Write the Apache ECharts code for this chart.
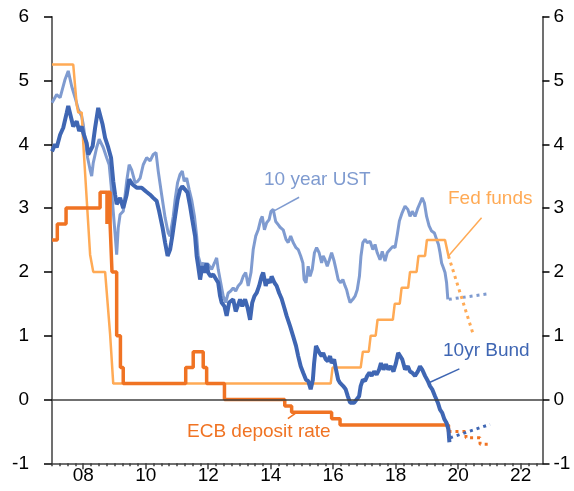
<!DOCTYPE html>
<html>

<head>
    <meta charset="utf-8">
    <title>Policy rates and 10-year yields</title>
    <script src="https://cdn.jsdelivr.net/npm/echarts@6/dist/echarts.min.js"></script>
</head>
<style>
    body {
        margin: 0;
        background: #fff;
    }
</style>

<body>
    <div id="main" style="width: 574px;height:491px;"></div>
    <script type="text/javascript">
        // tick labels (years)
        var yearTicks = [2008, 2010, 2012, 2014, 2016, 2018, 2020, 2022];

        // 10 year UST yield, [year, %]
        var ust10y = [[2007.00, 4.65], [2007.04, 4.62], [2007.15, 4.78], [2007.26, 4.73], [2007.42, 5.02], [2007.52, 5.15], [2007.63, 4.91], [2007.74, 4.73], [2007.84, 4.55], [2007.95, 4.44], [2008.00, 4.31], [2008.09, 3.97], [2008.14, 3.79], [2008.22, 3.60], [2008.27, 3.50], [2008.32, 3.71], [2008.43, 3.95], [2008.51, 4.08], [2008.64, 3.95], [2008.75, 3.79], [2008.83, 3.68], [2008.89, 3.37], [2008.96, 2.95], [2009.02, 2.59], [2009.07, 2.27], [2009.12, 2.69], [2009.18, 2.90], [2009.28, 2.95], [2009.39, 3.42], [2009.47, 3.68], [2009.55, 3.60], [2009.66, 3.40], [2009.74, 3.42], [2009.82, 3.47], [2009.92, 3.68], [2010.03, 3.79], [2010.14, 3.74], [2010.24, 3.84], [2010.33, 3.87], [2010.40, 3.58], [2010.51, 3.21], [2010.62, 2.85], [2010.72, 2.61], [2010.78, 2.56], [2010.83, 2.72], [2010.88, 2.87], [2010.94, 3.13], [2011.02, 3.40], [2011.10, 3.53], [2011.17, 3.58], [2011.23, 3.42], [2011.31, 3.47], [2011.39, 3.29], [2011.47, 3.13], [2011.56, 2.87], [2011.63, 2.56], [2011.68, 2.25], [2011.77, 2.09], [2011.84, 2.14], [2011.92, 2.06], [2012.00, 2.12], [2012.11, 2.04], [2012.20, 2.14], [2012.27, 2.22], [2012.32, 2.04], [2012.40, 1.83], [2012.48, 1.62], [2012.56, 1.52], [2012.64, 1.67], [2012.72, 1.70], [2012.80, 1.75], [2012.88, 1.70], [2012.96, 1.78], [2013.05, 1.83], [2013.12, 1.93], [2013.20, 1.99], [2013.28, 1.78], [2013.37, 1.99], [2013.44, 2.35], [2013.52, 2.56], [2013.60, 2.66], [2013.68, 2.82], [2013.73, 2.87], [2013.80, 2.66], [2013.87, 2.77], [2013.95, 2.82], [2014.01, 2.95], [2014.08, 2.98], [2014.16, 2.79], [2014.24, 2.74], [2014.30, 2.70], [2014.40, 2.66], [2014.49, 2.51], [2014.56, 2.46], [2014.64, 2.56], [2014.72, 2.46], [2014.81, 2.38], [2014.88, 2.35], [2014.96, 2.25], [2015.03, 2.14], [2015.07, 1.88], [2015.13, 1.83], [2015.20, 2.09], [2015.26, 1.93], [2015.33, 2.04], [2015.40, 2.30], [2015.47, 2.38], [2015.55, 2.30], [2015.63, 2.14], [2015.68, 2.25], [2015.74, 2.19], [2015.81, 2.09], [2015.88, 2.19], [2015.95, 2.30], [2016.03, 2.17], [2016.09, 2.04], [2016.16, 1.88], [2016.24, 1.83], [2016.31, 1.88], [2016.38, 1.78], [2016.43, 1.72], [2016.48, 1.62], [2016.54, 1.52], [2016.63, 1.57], [2016.70, 1.62], [2016.77, 1.72], [2016.84, 1.93], [2016.89, 2.25], [2016.95, 2.46], [2017.02, 2.51], [2017.09, 2.46], [2017.18, 2.48], [2017.27, 2.35], [2017.34, 2.43], [2017.41, 2.30], [2017.50, 2.19], [2017.57, 2.32], [2017.66, 2.17], [2017.73, 2.30], [2017.82, 2.35], [2017.91, 2.40], [2017.98, 2.38], [2018.05, 2.58], [2018.12, 2.80], [2018.21, 2.93], [2018.30, 3.03], [2018.39, 2.98], [2018.46, 2.87], [2018.53, 2.95], [2018.62, 2.87], [2018.71, 3.00], [2018.78, 3.08], [2018.85, 3.16], [2018.92, 3.08], [2018.99, 2.87], [2019.07, 2.72], [2019.15, 2.64], [2019.24, 2.61], [2019.31, 2.51], [2019.37, 2.43], [2019.42, 2.30], [2019.47, 2.14], [2019.53, 2.06], [2019.58, 1.99], [2019.63, 1.83], [2019.67, 1.57]];

        // 10yr Bund yield
        var bund10y = [[2007.00, 3.89], [2007.10, 4.00], [2007.15, 3.95], [2007.26, 4.15], [2007.36, 4.26], [2007.47, 4.49], [2007.52, 4.60], [2007.60, 4.44], [2007.68, 4.28], [2007.79, 4.36], [2007.87, 4.21], [2007.95, 4.28], [2008.00, 4.18], [2008.11, 4.02], [2008.16, 3.84], [2008.22, 3.87], [2008.30, 3.97], [2008.38, 4.26], [2008.48, 4.57], [2008.54, 4.55], [2008.62, 4.31], [2008.70, 4.10], [2008.80, 3.95], [2008.89, 3.79], [2008.96, 3.42], [2009.02, 3.21], [2009.07, 3.06], [2009.18, 3.16], [2009.28, 3.00], [2009.39, 3.21], [2009.47, 3.45], [2009.58, 3.37], [2009.71, 3.32], [2009.87, 3.32], [2010.01, 3.26], [2010.14, 3.21], [2010.24, 3.16], [2010.35, 3.11], [2010.43, 2.95], [2010.54, 2.69], [2010.62, 2.46], [2010.70, 2.25], [2010.78, 2.35], [2010.85, 2.56], [2010.94, 2.87], [2011.02, 3.13], [2011.10, 3.29], [2011.17, 3.34], [2011.26, 3.29], [2011.34, 3.24], [2011.42, 3.03], [2011.49, 2.82], [2011.58, 2.56], [2011.63, 2.25], [2011.68, 2.09], [2011.74, 1.88], [2011.81, 2.09], [2011.88, 1.99], [2011.95, 2.14], [2012.00, 1.99], [2012.08, 1.93], [2012.16, 1.96], [2012.32, 1.83], [2012.38, 1.62], [2012.43, 1.52], [2012.52, 1.46], [2012.59, 1.31], [2012.67, 1.52], [2012.80, 1.57], [2012.88, 1.38], [2012.94, 1.46], [2013.02, 1.57], [2013.09, 1.46], [2013.18, 1.57], [2013.26, 1.44], [2013.34, 1.25], [2013.41, 1.52], [2013.48, 1.62], [2013.55, 1.67], [2013.63, 1.78], [2013.71, 1.93], [2013.76, 1.99], [2013.84, 1.78], [2013.90, 1.88], [2013.98, 1.83], [2014.03, 1.93], [2014.12, 1.83], [2014.19, 1.78], [2014.27, 1.67], [2014.35, 1.58], [2014.44, 1.43], [2014.51, 1.31], [2014.62, 1.15], [2014.72, 0.99], [2014.81, 0.84], [2014.88, 0.68], [2014.96, 0.52], [2015.04, 0.42], [2015.13, 0.31], [2015.20, 0.29], [2015.28, 0.16], [2015.35, 0.31], [2015.39, 0.57], [2015.45, 0.84], [2015.51, 0.82], [2015.56, 0.73], [2015.63, 0.68], [2015.68, 0.73], [2015.76, 0.63], [2015.83, 0.60], [2015.90, 0.68], [2015.95, 0.57], [2016.03, 0.63], [2016.09, 0.47], [2016.16, 0.31], [2016.22, 0.26], [2016.32, 0.21], [2016.40, 0.16], [2016.47, 0.05], [2016.54, -0.05], [2016.59, -0.08], [2016.67, -0.05], [2016.75, 0.00], [2016.83, 0.05], [2016.88, 0.21], [2016.95, 0.31], [2017.02, 0.29], [2017.09, 0.37], [2017.16, 0.42], [2017.23, 0.37], [2017.31, 0.44], [2017.39, 0.39], [2017.47, 0.47], [2017.53, 0.57], [2017.61, 0.47], [2017.69, 0.55], [2017.76, 0.47], [2017.84, 0.52], [2017.93, 0.44], [2018.01, 0.57], [2018.08, 0.73], [2018.14, 0.70], [2018.21, 0.63], [2018.30, 0.47], [2018.39, 0.52], [2018.46, 0.44], [2018.53, 0.42], [2018.62, 0.37], [2018.71, 0.44], [2018.78, 0.52], [2018.85, 0.47], [2018.94, 0.37], [2019.03, 0.29], [2019.10, 0.21], [2019.17, 0.16], [2019.26, 0.05], [2019.35, -0.05], [2019.42, -0.16], [2019.49, -0.21], [2019.56, -0.31], [2019.63, -0.37], [2019.69, -0.47], [2019.72, -0.67]];

        // Fed funds target (upper), monthly
        var fedFunds = [[2007.00, 5.25], [2007.68, 5.25], [2007.79, 4.62], [2007.84, 4.50], [2007.95, 4.50], [2008.00, 4.02], [2008.22, 2.27], [2008.32, 2.00], [2008.70, 2.00], [2008.86, 1.02], [2008.96, 0.25], [2015.92, 0.25], [2015.98, 0.50], [2016.88, 0.50], [2016.95, 0.75], [2017.14, 0.75], [2017.20, 1.00], [2017.36, 1.00], [2017.42, 1.25], [2017.91, 1.25], [2017.97, 1.50], [2018.13, 1.50], [2018.19, 1.75], [2018.40, 1.75], [2018.46, 2.00], [2018.67, 2.00], [2018.73, 2.25], [2018.94, 2.25], [2019.00, 2.50], [2019.58, 2.50], [2019.69, 2.25]];

        // ECB deposit rate, [date of change, new rate]
        var ecbDeposit = [[2007.00, 2.50], [2007.17, 2.75], [2007.45, 3.00], [2008.54, 3.25], [2008.76, 2.75], [2008.78, 3.25], [2008.86, 2.75], [2008.92, 2.00], [2009.07, 1.00], [2009.19, 0.50], [2009.28, 0.25], [2011.28, 0.50], [2011.52, 0.75], [2011.84, 0.50], [2011.95, 0.25], [2012.52, 0.00], [2014.45, -0.10], [2014.67, -0.20], [2015.95, -0.30], [2016.22, -0.40], [2019.69, -0.50]];

        // market pricing (dotted)
        var ustForecast = [[2019.70, 1.57], [2021.00, 1.66]];
        var bundForecast = [[2019.74, -0.60], [2021.02, -0.39]];
        var fedForecast = [[2019.69, 2.25], [2020.47, 1.04]];
        var ecbForecast = [[2019.69, -0.50], [2020.25, -0.60], [2020.70, -0.70], [2021.00, -0.70]];

        var C_UST = '#7f9bd0';
        var C_BUND = '#3f66b3';
        var C_FED = '#ffaa55';
        var C_ECB = '#f07323';
        var AXIS = '#404040';
        var FONT = 'Liberation Sans, Arial, sans-serif';

        var quarterTicks = [];
        for (var q = 2007; q <= 2022.5; q += 0.25) quarterTicks.push(q);

        function leader(color, a, b) {
            return {
                silent: true,
                symbol: 'none',
                label: { show: false },
                lineStyle: { color: color, width: 1.5, type: 'solid' },
                data: [[{ coord: a }, { coord: b }]]
            };
        }

        var myChart = echarts.init(document.getElementById('main'));

        var option = {
            animation: false,
            textStyle: { fontFamily: FONT },
            grid: {
                left: 52, right: 31.5, top: 16.7, bottom: 27.7,
                containLabel: false, outerBoundsMode: 'none'
            },
            xAxis: [{
                type: 'value',
                min: 2007, max: 2022.7,
                position: 'bottom',
                splitLine: { show: false },
                axisLine: { show: true, onZero: false, lineStyle: { color: AXIS, width: 1.5 } },
                axisTick: { show: true, length: 6, customValues: yearTicks, lineStyle: { color: AXIS, width: 1.5 } },
                axisLabel: {
                    customValues: yearTicks, margin: 3, fontSize: 19, color: '#000',
                    formatter: function (v) { return String(v).slice(2); }
                }
            }, {
                type: 'value',
                min: 2007, max: 2022.7,
                position: 'bottom',
                splitLine: { show: false },
                axisLine: { show: false, onZero: false },
                axisTick: { show: true, length: 3, customValues: quarterTicks, lineStyle: { color: AXIS, width: 1.5 } },
                axisLabel: { show: false }
            }],
            yAxis: [{
                type: 'value', position: 'left',
                min: -1, max: 6, interval: 1,
                splitLine: { show: false },
                axisLine: { show: true, onZero: false, lineStyle: { color: AXIS, width: 1.5 } },
                axisTick: { show: true, length: 8, lineStyle: { color: '#000', width: 1.5 } },
                axisLabel: { margin: 23, fontSize: 19, color: '#000' }
            }, {
                type: 'value', position: 'right',
                min: -1, max: 6, interval: 1,
                splitLine: { show: false },
                axisLine: { show: true, onZero: false, lineStyle: { color: AXIS, width: 1.5 } },
                axisTick: { show: true, length: 7, lineStyle: { color: '#000', width: 1.5 } },
                axisLabel: { margin: 11, fontSize: 19, color: '#000' }
            }],
            series: [{
                name: 'zero',
                type: 'line',
                data: [],
                silent: true,
                markLine: {
                    silent: true, symbol: 'none', label: { show: false },
                    lineStyle: { color: AXIS, width: 1.5, type: 'solid' },
                    data: [{ yAxis: 0 }]
                }
            }, {
                name: '10 year UST',
                type: 'line', showSymbol: false,
                data: ust10y,
                lineStyle: { color: C_UST, width: 3 },
                markLine: leader(C_UST, [2014.91, 3.17], [2014.08, 2.95])
            }, {
                name: 'UST forecast',
                type: 'line', showSymbol: false,
                data: ustForecast,
                lineStyle: { color: C_UST, width: 3, type: [3, 4] }
            }, {
                name: 'Fed funds',
                type: 'line', showSymbol: false,
                data: fedFunds,
                lineStyle: { color: C_FED, width: 2.5 },
                markLine: leader(C_FED, [2020.75, 2.85], [2019.69, 2.25])
            }, {
                name: 'Fed forecast',
                type: 'line', showSymbol: false,
                data: fedForecast,
                lineStyle: { color: C_FED, width: 3, type: [3, 4] }
            }, {
                name: 'ECB deposit rate',
                type: 'line', showSymbol: false, step: 'end',
                data: ecbDeposit,
                lineStyle: { color: C_ECB, width: 3.5 },
                markLine: leader(C_ECB, [2014.78, -0.22], [2014.55, -0.30])
            }, {
                name: 'ECB forecast',
                type: 'line', showSymbol: false, step: 'end',
                data: ecbForecast,
                lineStyle: { color: C_ECB, width: 3, type: [3, 4] }
            }, {
                name: '10yr Bund',
                type: 'line', showSymbol: false,
                data: bund10y,
                lineStyle: { color: C_BUND, width: 4 },
                markLine: leader(C_BUND, [2020.04, 0.48], [2019.10, 0.27])
            }, {
                name: 'Bund forecast',
                type: 'line', showSymbol: false,
                data: bundForecast,
                lineStyle: { color: C_BUND, width: 3, type: [3, 4] }
            }],
            graphic: [
                { type: 'text', left: 264, top: 170, style: { text: '10 year UST', fill: C_UST, font: '19px ' + FONT } },
                { type: 'text', left: 448, top: 189, style: { text: 'Fed funds', fill: C_FED, font: '19px ' + FONT } },
                { type: 'text', left: 443, top: 341, style: { text: '10yr Bund', fill: C_BUND, font: '19px ' + FONT } },
                { type: 'text', left: 187, top: 422, style: { text: 'ECB deposit rate', fill: C_ECB, font: '19px ' + FONT } }
            ]
        };

        myChart.setOption(option);
    </script>
</body>

</html>
